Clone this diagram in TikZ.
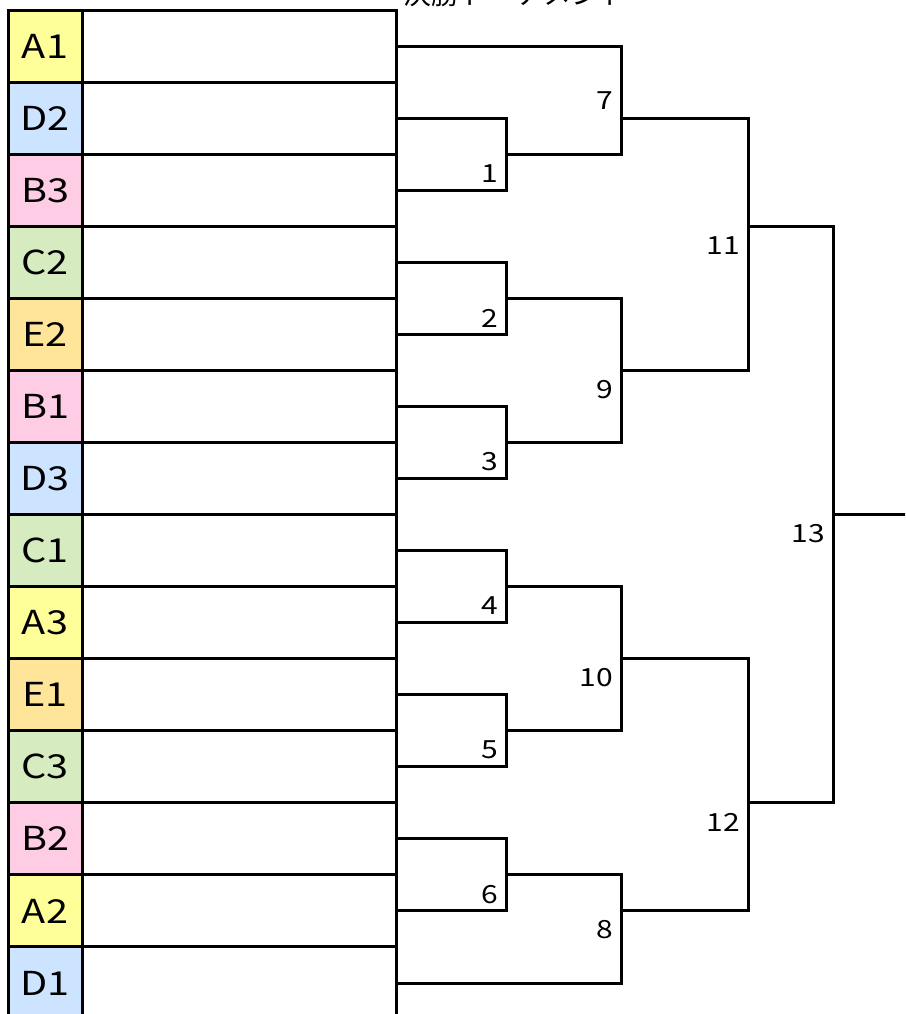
\documentclass[tikz,border=0pt]{standalone}
\usepackage{fontspec}
\setmainfont{Noto Sans CJK JP}
\definecolor{cA}{HTML}{FFFF99}
\definecolor{cB}{HTML}{FFCCE5}
\definecolor{cC}{HTML}{D6EBC0}
\definecolor{cD}{HTML}{CCE4FF}
\definecolor{cE}{HTML}{FFE599}
\tikzset{
  tline/.style={line width=3pt, line join=miter},
  seedcell/.style={draw, line width=3pt, minimum width=74pt, minimum height=72.06pt, inner sep=0pt, outer sep=0pt,
    font=\fontsize{33}{33}\selectfont},
  namecell/.style={draw, line width=3pt, minimum width=314pt, minimum height=72.06pt, inner sep=0pt, outer sep=0pt},
  num/.style={anchor=east, inner sep=0pt, font=\fontsize{25}{25}\selectfont},
}
\newcommand{\widetxt}[1]{\scalebox{1.2}[1]{#1}}
\begin{document}
\begin{tikzpicture}[x=1pt,y=-1pt]
\useasboundingbox (0,0) rectangle (905,1014);
\clip (0,0) rectangle (905,1014);
% title
\node[anchor=base west, inner sep=0pt, font=\fontsize{28}{28}\selectfont] (title) at (403,5) {決勝トーナメント};
% seed cells
\node[seedcell, fill=cA] (s0)  at (45,46.23)  {\widetxt{A1}};
\node[seedcell, fill=cD] (s1)  at (45,118.29) {\widetxt{D2}};
\node[seedcell, fill=cB] (s2)  at (45,190.35) {\widetxt{B3}};
\node[seedcell, fill=cC] (s3)  at (45,262.41) {\widetxt{C2}};
\node[seedcell, fill=cE] (s4)  at (45,334.47) {\widetxt{E2}};
\node[seedcell, fill=cB] (s5)  at (45,406.53) {\widetxt{B1}};
\node[seedcell, fill=cD] (s6)  at (45,478.59) {\widetxt{D3}};
\node[seedcell, fill=cC] (s7)  at (45,550.65) {\widetxt{C1}};
\node[seedcell, fill=cA] (s8)  at (45,622.71) {\widetxt{A3}};
\node[seedcell, fill=cE] (s9)  at (45,694.77) {\widetxt{E1}};
\node[seedcell, fill=cC] (s10) at (45,766.83) {\widetxt{C3}};
\node[seedcell, fill=cB] (s11) at (45,838.89) {\widetxt{B2}};
\node[seedcell, fill=cA] (s12) at (45,910.95) {\widetxt{A2}};
\node[seedcell, fill=cD] (s13) at (45,983.01) {\widetxt{D1}};
% name cells
\node[namecell] (n0)  at (239,46.23)  {};
\node[namecell] (n1)  at (239,118.29) {};
\node[namecell] (n2)  at (239,190.35) {};
\node[namecell] (n3)  at (239,262.41) {};
\node[namecell] (n4)  at (239,334.47) {};
\node[namecell] (n5)  at (239,406.53) {};
\node[namecell] (n6)  at (239,478.59) {};
\node[namecell] (n7)  at (239,550.65) {};
\node[namecell] (n8)  at (239,622.71) {};
\node[namecell] (n9)  at (239,694.77) {};
\node[namecell] (n10) at (239,766.83) {};
\node[namecell] (n11) at (239,838.89) {};
\node[namecell] (n12) at (239,910.95) {};
\node[namecell] (n13) at (239,983.01) {};
% match points
\coordinate (m1)  at (506,154.32);
\coordinate (m2)  at (506,298.44);
\coordinate (m3)  at (506,442.56);
\coordinate (m4)  at (506,586.68);
\coordinate (m5)  at (506,730.8);
\coordinate (m6)  at (506,874.92);
\coordinate (m7)  at (621,118.29);
\coordinate (m9)  at (621,370.5);
\coordinate (m10) at (621,658.74);
\coordinate (m8)  at (621,910.95);
\coordinate (m11) at (748,226.38);
\coordinate (m12) at (748,802.86);
\coordinate (m13) at (833,514.62);
\coordinate (fin) at (912,514.62);
% bracket
\draw[tline] (n1.east) -| (m1) |- (n2.east);
\draw[tline] (n3.east) -| (m2) |- (n4.east);
\draw[tline] (n5.east) -| (m3) |- (n6.east);
\draw[tline] (n7.east) -| (m4) |- (n8.east);
\draw[tline] (n9.east) -| (m5) |- (n10.east);
\draw[tline] (n11.east) -| (m6) |- (n12.east);
\draw[tline] (n0.east) -| (m7) |- (m1);
\draw[tline] (m2) -| (m9) |- (m3);
\draw[tline] (m4) -| (m10) |- (m5);
\draw[tline] (m6) -| (m8) |- (n13.east);
\draw[tline] (m7) -| (m11) |- (m9);
\draw[tline] (m10) -| (m12) |- (m8);
\draw[tline] (m11) -| (m13) |- (m12);
\draw[tline] (m13) -- (fin);
% match numbers
\node[num] (l1)  at (498,174) {\widetxt{1}};
\node[num] (l2)  at (498,318) {\widetxt{2}};
\node[num] (l3)  at (498,462) {\widetxt{3}};
\node[num] (l4)  at (498,606) {\widetxt{4}};
\node[num] (l5)  at (498,750) {\widetxt{5}};
\node[num] (l6)  at (498,895) {\widetxt{6}};
\node[num] (l7)  at (613,101) {\widetxt{7}};
\node[num] (l9)  at (613,390) {\widetxt{9}};
\node[num] (l10) at (613,678) {\widetxt{10}};
\node[num] (l8)  at (613,930) {\widetxt{8}};
\node[num] (l11) at (740,246) {\widetxt{11}};
\node[num] (l12) at (740,822) {\widetxt{12}};
\node[num] (l13) at (825,534) {\widetxt{13}};
\end{tikzpicture}
\end{document}
